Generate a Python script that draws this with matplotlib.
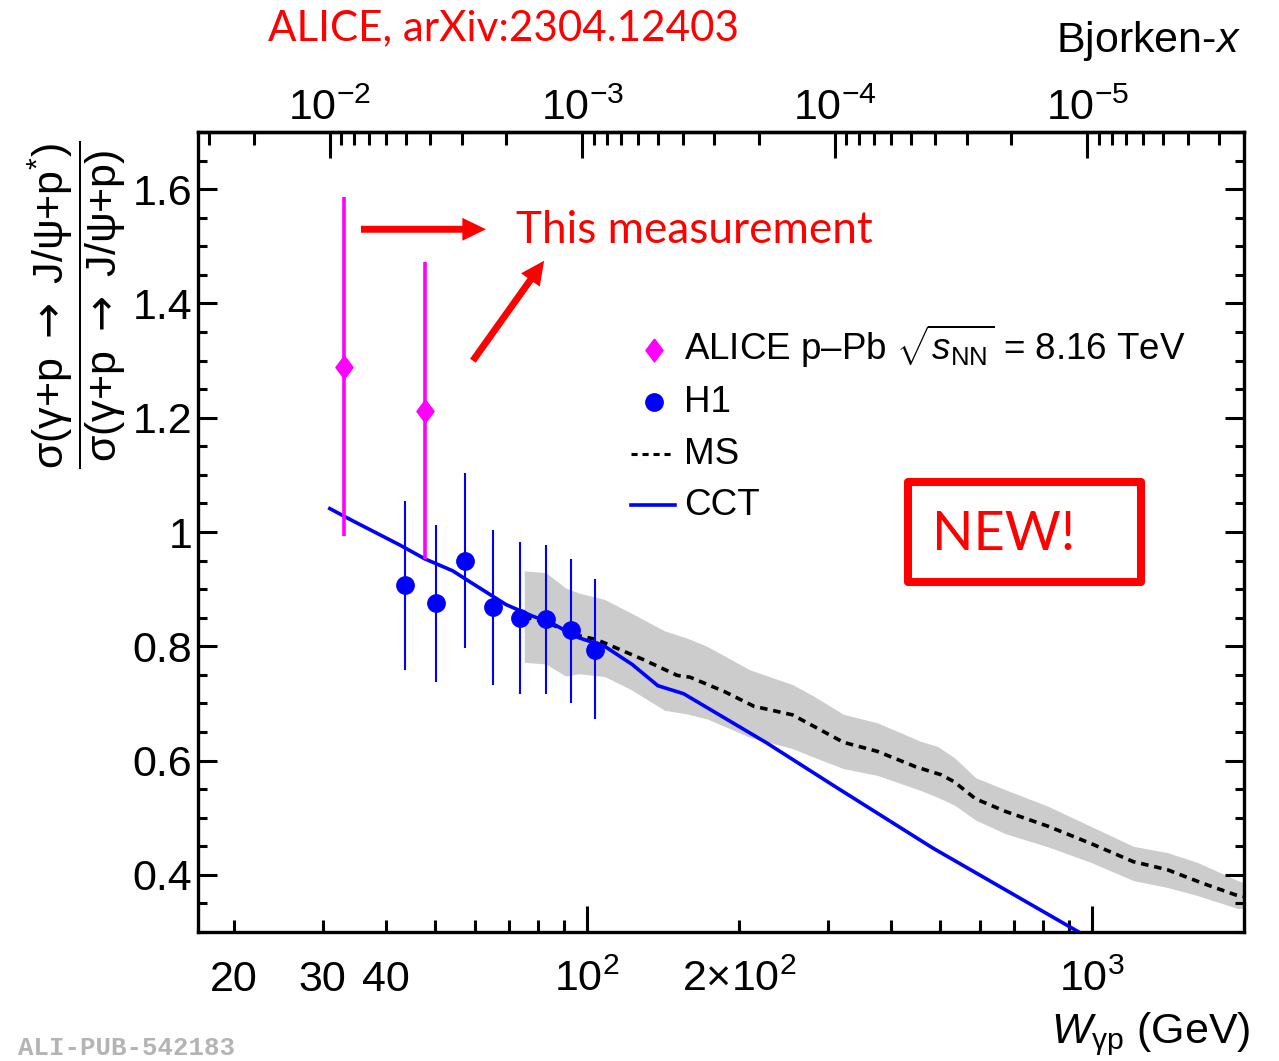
import numpy as np
import matplotlib
matplotlib.use("Agg")
import matplotlib.pyplot as plt
from matplotlib import ticker
from matplotlib.patches import Rectangle

plt.rcParams['font.family'] = ['Liberation Sans', 'DejaVu Sans']
plt.rcParams['mathtext.fontset'] = 'custom'
plt.rcParams['mathtext.rm'] = 'Liberation Sans'
plt.rcParams['mathtext.it'] = 'Liberation Sans:italic'
plt.rcParams['mathtext.bf'] = 'Liberation Sans:bold'
plt.rcParams['mathtext.sf'] = 'DejaVu Sans'

M_JPSI = 3.097  # GeV, for the Bjorken-x axis

# ALICE p-Pb (this measurement)
alice_w = [33.0, 47.8]
alice_r = [1.288, 1.211]
alice_up = [0.298, 0.261]
alice_dn = [0.295, 0.259]

# H1
h1_w = [43.6, 50.2, 57.3, 65.2, 73.8, 83.0, 93.1, 104.0]
h1_r = [0.908, 0.875, 0.950, 0.869, 0.850, 0.847, 0.828, 0.793]
h1_up = [0.146, 0.138, 0.153, 0.134, 0.133, 0.131, 0.125, 0.124]
h1_dn = [0.149, 0.138, 0.153, 0.136, 0.133, 0.130, 0.127, 0.121]

# CCT model
cct_w = [31.0, 34.0, 42.7, 47.8, 54.3, 57.7, 69.2, 78.0, 85.4, 96.4, 108.5,
         123.1, 138.3, 155.5, 227.0, 309.6, 484.0, 929.0, 1000.0]
cct_r = [1.041, 1.022, 0.977, 0.953, 0.932, 0.917, 0.873, 0.853, 0.840, 0.815,
         0.800, 0.768, 0.731, 0.717, 0.631, 0.555, 0.447, 0.303, 0.287]

# MS model (central)
ms_w = [75.2, 83.0, 90.8, 97.0, 104.4, 129.2, 151.1, 160.0, 187.0, 214.3, 255.4,
        298.2, 322.2, 376.3, 448.2, 503.6, 533.5, 588.4, 674.2, 818.9, 994.3,
        1208.0, 1410.0, 1648.0, 1923.0, 2000.0]
ms_r = [0.852, 0.842, 0.828, 0.818, 0.812, 0.777, 0.749, 0.746, 0.721, 0.695, 0.680,
        0.648, 0.632, 0.616, 0.589, 0.575, 0.563, 0.533, 0.511, 0.485, 0.455,
        0.423, 0.409, 0.386, 0.365, 0.362]

# MS uncertainty band
band_w = [75.2, 83.0, 90.8, 96.6, 108.5, 121.9, 142.6, 157.1, 173.0, 210.0, 255.4,
          281.2, 322.2, 376.3, 457.1, 494.2, 534.5, 588.4, 674.2, 818.9, 994.3,
          1208.0, 1410.0, 1615.0, 1945.0, 2000.0]
band_hi = [0.932, 0.929, 0.902, 0.893, 0.882, 0.859, 0.827, 0.815, 0.800, 0.759, 0.733,
           0.713, 0.681, 0.666, 0.634, 0.625, 0.605, 0.570, 0.549, 0.520, 0.485,
           0.450, 0.439, 0.422, 0.390, 0.386]
band_lo = [0.772, 0.769, 0.748, 0.752, 0.747, 0.725, 0.688, 0.682, 0.673, 0.641, 0.621,
           0.606, 0.586, 0.574, 0.548, 0.536, 0.522, 0.496, 0.472, 0.449, 0.422,
           0.390, 0.378, 0.364, 0.341, 0.342]

# tick labels
bx_major = [100, 1000]
bx_major_lab = [r'$10^{2}$', r'$10^{3}$']
bx_minor_lab = {20: '20', 30: '30', 40: '40', 200: r'$2{\times}10^{2}$'}
tx_major = [1e-2, 1e-3, 1e-4, 1e-5]
tx_major_lab = [r'$10^{-2}$', r'$10^{-3}$', r'$10^{-4}$', r'$10^{-5}$']

RED = '#ff0000'
MAG = '#ff00ff'
BLUE = '#0000ff'

fig = plt.figure(figsize=(12.79, 10.61), dpi=100)
ax = fig.add_axes([198 / 1279, 1 - 932 / 1061, 1046 / 1279, 800 / 1061])

ax.fill_between(band_w, band_lo, band_hi, color='#cccccc', lw=0, zorder=1)
ax.plot(ms_w, ms_r, color='black', lw=2.6, dashes=(2.1, 1.6), zorder=2)
ax.plot(cct_w, cct_r, color=BLUE, lw=2.6, zorder=3)
ax.errorbar(h1_w, h1_r, yerr=[h1_dn, h1_up], fmt='o', color=BLUE, ms=12.5,
            elinewidth=1.5, capsize=0, zorder=4)
diamond = [(0, 1), (0.75, 0), (0, -1), (-0.75, 0), (0, 1)]
ax.errorbar(alice_w, alice_r, yerr=[alice_dn, alice_up], fmt='none', ecolor=MAG,
            elinewidth=2.6, capsize=0, zorder=5)
ax.plot(alice_w, alice_r, ls='none', marker=diamond, ms=16.5, color=MAG, zorder=6)

ax.set_xscale('log')
ax.set_xlim(17, 2000)
ax.set_ylim(0.3, 1.7)

# bottom axis ticks
ax.xaxis.set_major_locator(ticker.FixedLocator(bx_major))
ax.xaxis.set_major_formatter(ticker.FixedFormatter(bx_major_lab))
ax.xaxis.set_minor_locator(ticker.LogLocator(base=10, subs=np.arange(2, 10), numticks=20))
ax.xaxis.set_minor_formatter(ticker.FuncFormatter(
    lambda v, p: bx_minor_lab.get(int(round(v)), '')))
ax.tick_params(axis='x', which='both', direction='in', top=False, bottom=True,
               width=2.2, labelsize=31, pad=20)
ax.tick_params(axis='x', which='major', length=18.7)
ax.tick_params(axis='x', which='minor', length=9)

ax.yaxis.set_major_locator(ticker.MultipleLocator(0.2))
ax.yaxis.set_minor_locator(ticker.MultipleLocator(0.05))
ax.yaxis.set_major_formatter(ticker.FuncFormatter(lambda v, p: '%g' % round(v, 2)))
ax.tick_params(axis='y', which='both', direction='in', left=True, right=True,
               width=2.2, labelsize=31, pad=4)
ax.tick_params(axis='y', which='major', length=13.7)
ax.tick_params(axis='y', which='minor', length=6.8)
for s in ax.spines.values():
    s.set_linewidth(2.4)


def w2x(w):
    w = np.asarray(w, dtype=float)
    with np.errstate(divide='ignore', invalid='ignore'):
        return (M_JPSI / w) ** 2


def x2w(x):
    x = np.asarray(x, dtype=float)
    with np.errstate(divide='ignore', invalid='ignore'):
        return M_JPSI / np.sqrt(x)


sec = ax.secondary_xaxis('top', functions=(w2x, x2w))
sec.xaxis.set_major_locator(ticker.FixedLocator(tx_major))
sec.xaxis.set_major_formatter(ticker.FixedFormatter(tx_major_lab))
sec.xaxis.set_minor_locator(ticker.LogLocator(base=10, subs=np.arange(2, 10), numticks=20))
sec.xaxis.set_minor_formatter(ticker.NullFormatter())
sec.tick_params(axis='x', which='both', direction='in', width=2.2, labelsize=31, pad=2)
sec.tick_params(axis='x', which='major', length=18.7)
sec.tick_params(axis='x', which='minor', length=9)
sec.spines['top'].set_linewidth(2.4)

# axis titles
arr = r'\ \mathsf{\rightarrow}\ '
num = r'\mathrm{\sigma}(\mathrm{\gamma}{+}\mathrm{p}' + arr + r'\mathrm{J}/\mathrm{\psi}{+}\mathrm{p}^{*})'
den = r'\mathrm{\sigma}(\mathrm{\gamma}{+}\mathrm{p}' + arr + r'\mathrm{J}/\mathrm{\psi}{+}\mathrm{p})'
fig.text(77 / 1279, 1 - 305 / 1061, r'$\dfrac{' + num + '}{' + den + '}$',
         rotation=90, ha='center', va='center', fontsize=31)
fig.text(0.978, 1 - 1043 / 1061, r'$W_{\mathrm{\gamma p}}$ (GeV)', ha='right',
         va='baseline', fontsize=31)
fig.text(1240.5 / 1279, 1 - 52 / 1061, r'Bjorken-$x$', ha='right', va='baseline', fontsize=31)

# legend
leg_y = [0.7275, 0.6629, 0.5975, 0.5338]
leg_txt = [r'ALICE p–Pb $\sqrt{s_{\mathrm{NN}}}$ = 8.16 TeV', 'H1', 'MS', 'CCT']
ax.plot([0.4357], [leg_y[0]], transform=ax.transAxes, marker=diamond, ms=16.5,
        color=MAG, ls='none', clip_on=False)
ax.plot([0.4357], [leg_y[1]], transform=ax.transAxes, marker='o', ms=12.5,
        color=BLUE, ls='none', clip_on=False)
ax.plot([0.414, 0.4565], [leg_y[2]] * 2, transform=ax.transAxes, color='black',
        lw=2.2, dashes=(2.0, 1.6))
ax.plot([0.414, 0.4565], [leg_y[3]] * 2, transform=ax.transAxes, color=BLUE, lw=2.6)
for yy, t in zip(leg_y, leg_txt):
    ax.text(0.4649, yy - 0.0125, t, transform=ax.transAxes, fontsize=26.5,
            va='baseline', ha='left')

# red annotations
fig.text(267.5 / 1279, 1 - 40 / 1061, 'ALICE, arXiv:2304.12403', color=RED,
         fontsize=30.3, family='Lato', va='baseline', ha='left')
ax.text(0.3037, 0.8609, 'This measurement', transform=ax.transAxes, color=RED,
        fontsize=31.8, family='Lato', va='baseline', ha='left')
arrow = dict(arrowstyle='simple,head_length=1.7,head_width=1.65,tail_width=0.5',
             mutation_scale=10, color=RED, lw=0, shrinkA=0, shrinkB=0)
ax.annotate('', xy=(0.2753, 0.8784), xytext=(0.1558, 0.8784),
            xycoords='axes fraction', textcoords='axes fraction', arrowprops=arrow)
ax.annotate('', xy=(0.3309, 0.8391), xytext=(0.2628, 0.7141),
            xycoords='axes fraction', textcoords='axes fraction', arrowprops=arrow)
ax.add_patch(Rectangle((0.6783, 0.4375), 0.9015 - 0.6783, 0.5619 - 0.4375,
                       transform=ax.transAxes, fill=False, edgecolor=RED, lw=5.8,
                       joinstyle='round', zorder=7))
ax.text(0.7014, 0.4775, 'NEW!', transform=ax.transAxes, color=RED, fontsize=39,
        family='Lato', va='baseline', ha='left')

fig.text(18.4 / 1279, 0.006, 'ALI-PUB-542183', color='#b4b4b4', fontsize=18.5,
         family='Liberation Mono', weight='bold', va='baseline', ha='left')

fig.savefig('out.png', dpi=100)
